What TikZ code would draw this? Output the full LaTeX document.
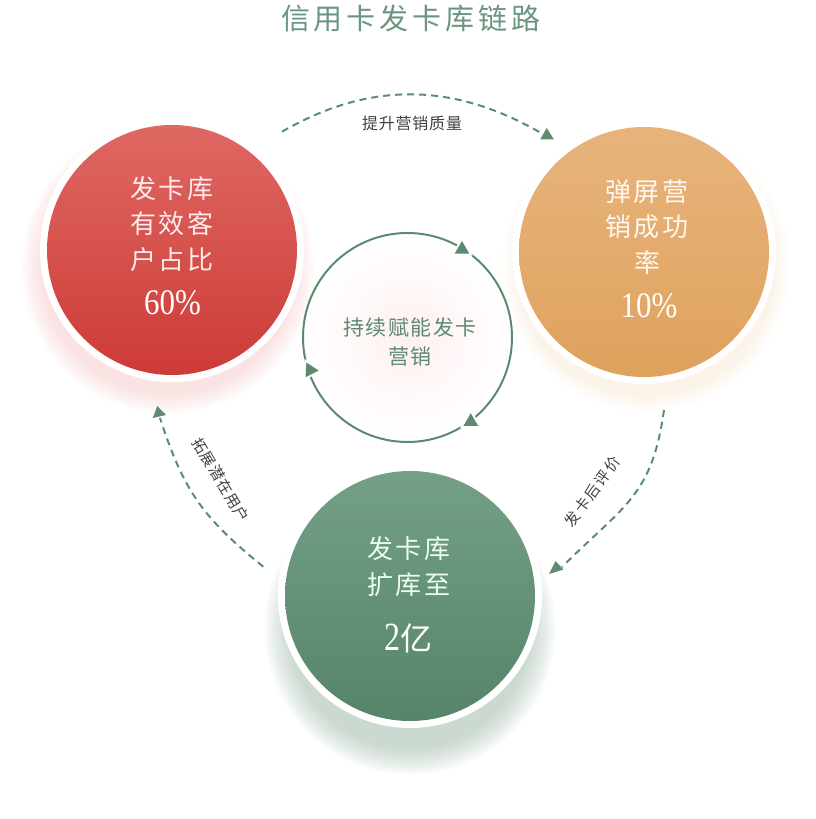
\documentclass[tikz,border=0pt]{standalone}
\usepackage{fontspec}
\usepackage{graphicx}
\newfontfamily\cjk{Noto Sans CJK SC}
\newfontfamily\numfont{Liberation Serif}
\usetikzlibrary{shapes.geometric}
\definecolor{linegreen}{HTML}{5E8C72}
\definecolor{cycgreen}{HTML}{5B8A6F}
\definecolor{titlegreen}{HTML}{6A9580}
\definecolor{redL}{HTML}{DF6863}
\definecolor{redD}{HTML}{CD3B37}
\definecolor{orL}{HTML}{E8B47C}
\definecolor{orD}{HTML}{DFA25D}
\definecolor{grL}{HTML}{73A087}
\definecolor{grD}{HTML}{56846A}
\definecolor{redglow}{HTML}{F0A8A8}
\definecolor{orglow}{HTML}{F2CFA8}
\definecolor{grglow}{HTML}{8FAE9A}
\definecolor{labelgray}{HTML}{404040}
\newcommand{\lsp}[1]{\kern#1pt\relax}
\begin{document}
\begin{tikzpicture}[x=1pt,y=1pt,
  ringbox/.style={circle, fill=white, minimum size=264pt, inner sep=0pt},
  diskbox/.style={circle, minimum size=250pt, inner sep=0pt, shading=axis, shading angle=45},
  intext/.style={align=center, inner sep=0pt, font=\cjk\fontsize{26}{35.5}\selectfont},
  numtext/.style={inner sep=0pt, font=\numfont\fontsize{36}{36}\selectfont},
  dashline/.style={draw=linegreen, line width=2pt, dash pattern=on 7pt off 5pt},
  cyctri/.style={regular polygon, regular polygon sides=3, minimum size=17pt, inner sep=0pt,
                 fill=cycgreen, preaction={draw=white, line width=4pt}},
  arclabel/.style={inner sep=0pt, text=labelgray, font=\cjk\fontsize{15}{15}\selectfont}
]
\useasboundingbox (0,0) rectangle (816,819);

% soft glows
\foreach \i in {0,...,11} {
  \fill[redglow, opacity=0.03] (168,552) circle ({128+\i*1.7});
  \fill[orglow, opacity=0.025] (646,552) circle ({128+\i*1.5});
  \fill[grglow, opacity=0.05] (410,190) circle ({120+\i*2.3});
}

% title
\node[inner sep=0pt, text=titlegreen, font=\cjk\fontsize{29}{29}\selectfont] (title) at (411,800)
  {信\lsp4用\lsp4卡\lsp4发\lsp4卡\lsp4库\lsp4链\lsp4路};

% rings and disks
\node[ringbox] (redring) at (172,569) {};
\node[ringbox] (orring) at (644,567) {};
\node[ringbox] (grring) at (410,223) {};
\node[diskbox, top color=redL, bottom color=redD] (red) at (172,569) {};
\node[diskbox, top color=orL, bottom color=orD] (orange) at (644,567) {};
\node[diskbox, top color=grL, bottom color=grD] (green) at (410,223) {};

% circle texts
\node[intext, text=white!92!red] (redtxt) at (172,595)
  {发\lsp3卡\lsp3库\\有\lsp3效\lsp3客\\户\lsp3占\lsp3比};
\node[numtext, text=white] (rednum) at (172.5,516) {\scalebox{0.86}[1]{60\%}};
\node[intext, text=white!94!orange] (ortxt) at (647,592)
  {弹\lsp3屏\lsp3营\\销\lsp3成\lsp3功\\率};
\node[numtext, text=white] (ornum) at (649,513) {\scalebox{0.86}[1]{10\%}};
\node[intext, text=white!92!green] (grtxt) at (409,252.5)
  {发\lsp3卡\lsp3库\\扩\lsp3库\lsp3至};
\node[inner sep=0pt, text=white] (grnum) at (408,181)
  {\numfont\fontsize{40}{40}\selectfont\scalebox{0.8}[1]{2}\cjk\fontsize{32}{32}\selectfont 亿};

% central cycle
\node[circle, draw=cycgreen, line width=2pt, minimum size=209pt, inner sep=0pt,
      inner color=white!94!red, outer color=white] (cyc) at (407.5,481.5) {};
\node[align=center, inner sep=0pt, text=cycgreen, font=\cjk\fontsize{21}{29}\selectfont] (cyctxt) at (410,476.5)
  {持\lsp{1.5}续\lsp{1.5}赋\lsp{1.5}能\lsp{1.5}发\lsp{1.5}卡\\营\lsp{1.5}销};
\node[cyctri] (t1) at (462,569.5) {};
\node[cyctri, rotate=26.6] (t2) at (310.2,448.9) {};
\node[cyctri] (t3) at (470.8,397.3) {};

% dashed arrows
\coordinate (topS) at (282,687.3);
\coordinate (topE) at (541,686);
\coordinate (rightS) at (664,409);
\coordinate (rightE) at (562,252);
\coordinate (leftS) at (263.3,252.3);
\coordinate (leftE) at (160,401);
\draw[dashline] (topS) to[out=30,in=150] (topE);
\draw[dashline] (rightS) to[out=262,in=45,looseness=1.2] (rightE);
\draw[dashline] (leftS) to[out=141,in=288,looseness=1.1] (leftE);
\fill[linegreen] (546.7,691) -- (540.2,679.5) -- (554,679.5) -- cycle;
\fill[linegreen] (549,245) -- (555.5,258) -- (563.5,249.5) -- cycle;
\fill[linegreen] (157.3,413) -- (152.8,401) -- (166,404) -- cycle;

% arrow labels
\node[arclabel, font=\cjk\fontsize{16}{16}\selectfont] (toplbl) at (412,696)
  {提\lsp{0.8}升\lsp{0.8}营\lsp{0.8}销\lsp{0.8}质\lsp{0.8}量};
\node[arclabel, rotate=-59] (leftlbl) at (221,339)
  {拓\lsp1展\lsp1潜\lsp1在\lsp1用\lsp1户};
\node[arclabel, rotate=53.6] (rightlbl) at (592.5,327.3)
  {发\lsp2卡\lsp2后\lsp2评\lsp2价};
\end{tikzpicture}
\end{document}
